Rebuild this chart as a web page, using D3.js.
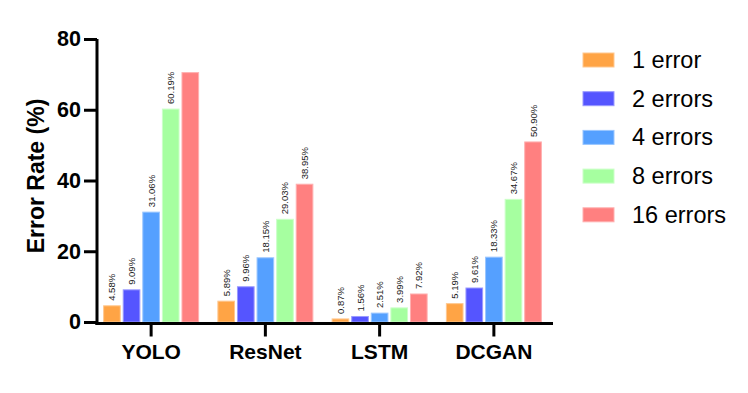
<!DOCTYPE html>
<html>
<head>
<meta charset="utf-8">
<script src="https://cdn.jsdelivr.net/npm/d3@7"></script>
<style>
  body { margin: 0; background: #fff; }
  svg { font-family: "Liberation Sans", Arial, Helvetica, sans-serif; }
</style>
</head>
<body>
<svg width="748" height="393"></svg>
<script>
var models = ["YOLO", "ResNet", "LSTM", "DCGAN"];
var series = ["1 error", "2 errors", "4 errors", "8 errors", "16 errors"];
var colors = ["#ffa445", "#5555ff", "#55a0ff", "#a6ffa0", "#ff8080"];
var strokes = ["#ffc890", "#9a9aff", "#9ac6ff", "#ccffc8", "#ffb0b0"];

var oneError = [4.58, 5.89, 0.87, 5.19];
var twoErrors = [9.09, 9.96, 1.56, 9.61];
var fourErrors = [31.06, 18.15, 2.51, 18.33];
var eightErrors = [60.19, 29.03, 3.99, 34.67];
var sixteenErrors = [70.5, 38.95, 7.92, 50.90];
// the YOLO 16-error label is cut off in the original
var sixteenLabels = [null, "38.95%", "7.92%", "50.90%"];

var yTicks = [0, 20, 40, 60, 80];

var svg = d3.select("svg");
var allSeries = [oneError, twoErrors, fourErrors, eightErrors, sixteenErrors];

var y = d3.scaleLinear().domain([0, 80]).range([322, 39]);
var x0 = d3.scaleBand().domain(models).range([94, 551]).padding(0);
var x1 = d3.scaleBand().domain(series).range([-47.5, 47.5]).paddingInner(0.15);

var bars = [];
models.forEach(function (m, i) {
    series.forEach(function (s, j) {
        var v = allSeries[j][i];
        var label = j === 4 ? sixteenLabels[i] : v.toFixed(2) + "%";
        bars.push({ model: m, series: s, idx: j, value: v, label: label });
    });
});

svg.append("g")
    .selectAll("rect")
    .data(bars)
    .enter()
    .append("rect")
    .attr("x", function (d) { return x0(d.model) + x0.bandwidth() / 2 + x1(d.series); })
    .attr("y", function (d) { return y(d.value); })
    .attr("width", x1.bandwidth())
    .attr("height", function (d) { return y(0) - y(d.value); })
    .attr("fill", function (d) { return colors[d.idx]; })
    .attr("stroke", function (d) { return strokes[d.idx]; })
    .attr("stroke-width", 1);

svg.append("g")
    .selectAll("text")
    .data(bars.filter(function (d) { return d.label; }))
    .enter()
    .append("text")
    .attr("transform", function (d) {
        var cx = x0(d.model) + x0.bandwidth() / 2 + x1(d.series) + x1.bandwidth() / 2 + 3.5;
        return "translate(" + cx + "," + (y(d.value) - 5) + ") rotate(-90)";
    })
    .attr("font-size", 9.5)
    .attr("fill", "#222")
    .text(function (d) { return d.label; });

// y axis
var yAxis = svg.append("g")
    .attr("transform", "translate(97,0)")
    .call(d3.axisLeft(y).tickValues(yTicks).tickSize(13).tickPadding(3));
yAxis.select(".domain").attr("stroke-width", 3).attr("d", "M0," + (y(0) + 3) + "V" + y(80));
yAxis.selectAll(".tick line").attr("stroke-width", 3);
yAxis.selectAll(".tick text")
    .attr("font-size", 21.5)
    .attr("font-weight", "bold")
    .attr("fill", "#000")
    .attr("font-family", "Liberation Sans, Arial, sans-serif");

// x axis
var xAxis = svg.append("g")
    .attr("transform", "translate(0," + (y(0) + 1.5) + ")")
    .call(d3.axisBottom(x0).tickSize(13).tickPadding(8));
xAxis.select(".domain").attr("stroke-width", 3).attr("d", "M95.5,0H553");
xAxis.selectAll(".tick line").attr("stroke-width", 3);
xAxis.selectAll(".tick text")
    .attr("font-size", 21)
    .attr("font-weight", "bold")
    .attr("fill", "#000")
    .attr("font-family", "Liberation Sans, Arial, sans-serif");

svg.append("text")
    .attr("transform", "translate(44,176) rotate(-90)")
    .attr("text-anchor", "middle")
    .attr("font-size", 23)
    .attr("font-weight", "bold")
    .text("Error Rate (%)");

// legend
var legend = svg.append("g")
    .selectAll("g")
    .data(series)
    .enter()
    .append("g")
    .attr("transform", function (d, i) { return "translate(583," + (53 + i * 38.7) + ")"; });

legend.append("rect")
    .attr("width", 31)
    .attr("height", 14)
    .attr("fill", function (d, i) { return colors[i]; })
    .attr("stroke", function (d, i) { return strokes[i]; });

legend.append("text")
    .attr("x", 49)
    .attr("y", 15)
    .attr("font-size", 23.5)
    .attr("fill", "#000")
    .text(function (d) { return d; });
</script>
</body>
</html>
